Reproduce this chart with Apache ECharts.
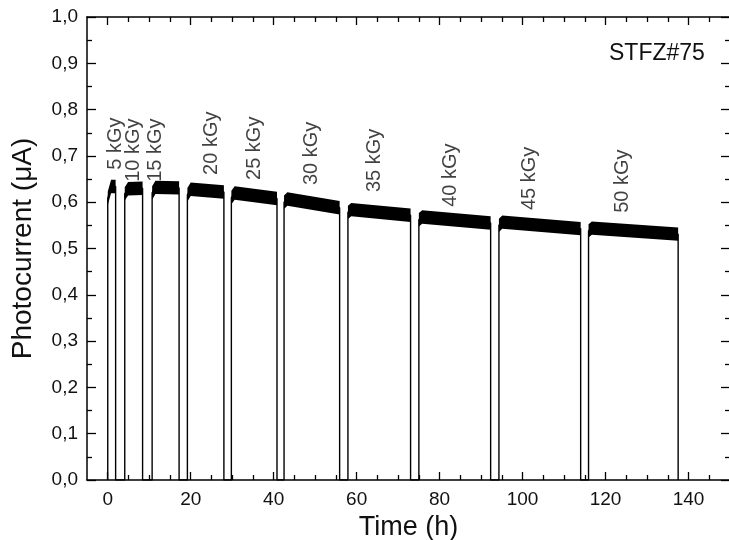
<!DOCTYPE html>
<html>
<head>
<meta charset="utf-8">
<script src="https://cdn.jsdelivr.net/npm/echarts@6/dist/echarts.min.js"></script>
<style>
  html, body { margin: 0; padding: 0; background: #fff; }
  #chart { width: 729px; height: 540px; }
</style>
</head>
<body>
<div id="chart"></div>
<script>
// irradiation steps, times in hours
const onTimes = [0, 4.1, 10.7, 19.2, 29.8, 42.5, 57.9, 75.0, 94.3, 115.9]
const offTimes = [1.9, 8.4, 17.2, 28.0, 40.8, 55.9, 73.0, 92.3, 114.0, 137.5]
// photocurrent (uA), middle of the noise band: right at switch-on, shortly after, at switch-off
const riseLevel = [0.608, 0.618, 0.62, 0.616, 0.61, 0.6, 0.578, 0.562, 0.55, 0.538]
const startLevel = [0.634, 0.629, 0.632, 0.628, 0.62, 0.607, 0.584, 0.568, 0.557, 0.544]
const endLevel = [0.634, 0.63, 0.631, 0.622, 0.608, 0.588, 0.572, 0.555, 0.543, 0.531]
// half height of the noise band (uA)
const noiseHalf = 0.0145

const doseLabels = ['5 kGy', '10 kGy', '15 kGy', '20 kGy', '25 kGy', '30 kGy', '35 kGy', '40 kGy', '45 kGy', '50 kGy']
const labelX = [1.9, 6.1, 11.4, 25.1, 35.4, 49.0, 64.3, 82.6, 101.7, 124.1]
const labelY = [0.670, 0.644, 0.644, 0.659, 0.648, 0.637, 0.622, 0.590, 0.583, 0.577]

const majorX = [0, 20, 40, 60, 80, 100, 120, 140]
const minorX = [5, 10, 15, 25, 30, 35, 45, 50, 55, 65, 70, 75, 85, 90, 95, 105, 110, 115, 125, 130, 135, 145]

const FONT = 'Liberation Sans, Arial, Helvetica, sans-serif'
const comma = v => v.toFixed(1).replace('.', ',')

// thin trace: up at switch-on, down to zero at switch-off
const trace = []
onTimes.forEach((t, i) => {
  trace.push([t, 0], [t, riseLevel[i]], [t + 0.8, startLevel[i]], [offTimes[i], endLevel[i]], [offTimes[i], 0])
})

const steps = onTimes.map((t, i) => [t, offTimes[i], riseLevel[i], startLevel[i], endLevel[i]])

function renderBand(params, api) {
  const on = api.value(0)
  const off = api.value(1)
  const mid = [[on, api.value(2)], [on + 0.8, api.value(3)], [off, api.value(4)]]
  const upper = mid.map(p => api.coord([p[0], p[1] + noiseHalf]))
  const lower = mid.slice().reverse().map(p => api.coord([p[0], p[1] - noiseHalf]))
  return {
    type: 'polygon',
    shape: { points: upper.concat(lower) },
    style: { fill: '#000' }
  }
}

function xAxisDef(position, ticks, len, showLabel, showLine) {
  return {
    type: 'value',
    position: position,
    min: -5,
    max: 150,
    splitLine: { show: false },
    axisLine: { show: showLine, onZero: false, lineStyle: { color: '#000', width: 1.5 } },
    axisTick: { show: true, inside: true, length: len, customValues: ticks, lineStyle: { color: '#000', width: 1.3 } },
    axisLabel: showLabel
      ? { show: true, customValues: ticks, margin: 10, color: '#111', fontSize: 19, fontFamily: FONT }
      : { show: false }
  }
}

function yAxisDef(position, showLabel) {
  return {
    type: 'value',
    position: position,
    min: 0,
    max: 1,
    interval: 0.1,
    splitLine: { show: false },
    axisLine: { show: true, onZero: false, lineStyle: { color: '#000', width: 1.5 } },
    axisTick: { show: true, inside: true, length: 9, lineStyle: { color: '#000', width: 1.3 } },
    minorTick: { show: true, splitNumber: 2, length: 5, lineStyle: { color: '#000', width: 1.3 } },
    axisLabel: showLabel
      ? { show: true, margin: 9, color: '#111', fontSize: 19, fontFamily: FONT, formatter: comma }
      : { show: false }
  }
}

const chart = echarts.init(document.getElementById('chart'), null, { renderer: 'canvas' })

const xMain = xAxisDef('bottom', majorX, 8, true, true)
xMain.name = 'Time (h)'
xMain.nameLocation = 'middle'
xMain.nameGap = 31
xMain.nameTextStyle = { color: '#111', fontSize: 27, fontFamily: FONT }

const yMain = yAxisDef('left', true)
yMain.name = 'Photocurrent (\u03bcA)'
yMain.nameLocation = 'middle'
yMain.nameGap = 50
yMain.nameTextStyle = { color: '#111', fontSize: 28, fontFamily: FONT }

chart.setOption({
  animation: false,
  backgroundColor: '#fff',
  title: {
    text: 'STFZ#75',
    left: 604,
    top: 37,
    textStyle: { color: '#111', fontSize: 23, fontWeight: 'normal', fontFamily: FONT }
  },
  grid: { left: 87, top: 17, width: 643, height: 463, outerBoundsMode: 'none', containLabel: false },
  xAxis: [
    xMain,
    xAxisDef('bottom', minorX, 5, false, false),
    xAxisDef('top', majorX, 8, false, true),
    xAxisDef('top', minorX, 5, false, false)
  ],
  yAxis: [yMain, yAxisDef('right', false)],
  series: [
    {
      type: 'line',
      xAxisIndex: 0,
      yAxisIndex: 0,
      symbol: 'none',
      silent: true,
      z: 2,
      lineStyle: { color: '#000', width: 1.4 },
      data: trace
    },
    {
      type: 'custom',
      xAxisIndex: 0,
      yAxisIndex: 0,
      silent: true,
      z: 3,
      encode: { x: [0, 1], y: [2, 3, 4] },
      renderItem: renderBand,
      data: steps
    },
    {
      type: 'scatter',
      xAxisIndex: 0,
      yAxisIndex: 0,
      symbolSize: 0,
      silent: true,
      z: 4,
      data: labelX.map((x, i) => [x, labelY[i], doseLabels[i]]),
      label: {
        show: true,
        position: 'inside',
        rotate: 90,
        align: 'left',
        verticalAlign: 'middle',
        color: '#111',
        fontSize: 20,
        fontFamily: FONT,
        formatter: p => p.data[2]
      }
    }
  ]
})
</script>
</body>
</html>
